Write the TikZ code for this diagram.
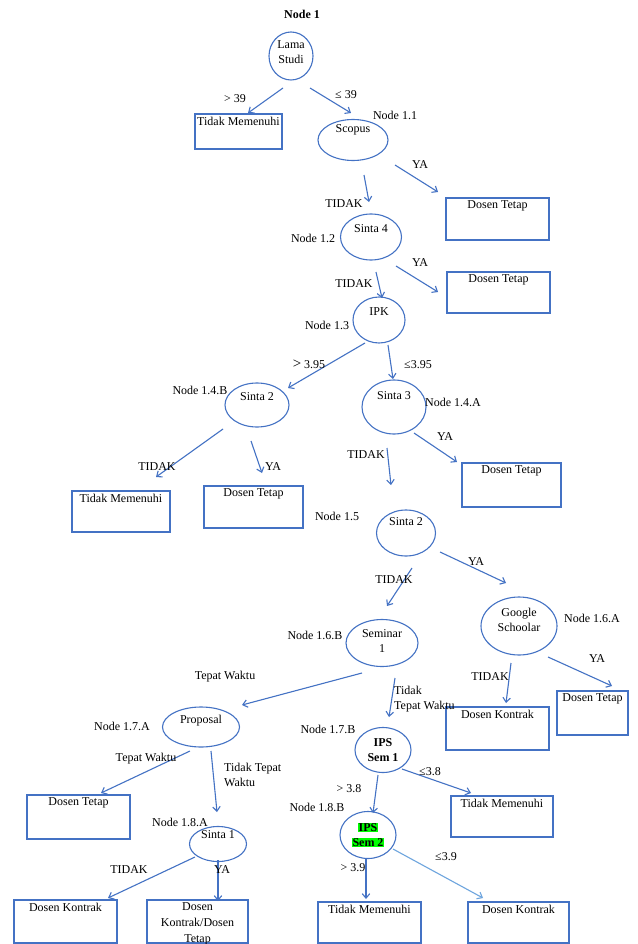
\documentclass[tikz,border=0pt]{standalone}
\usepackage{fontspec}
\setmainfont{Liberation Serif}
\usetikzlibrary{shapes.geometric,arrows.meta}
\definecolor{lc}{RGB}{68,114,196}
\definecolor{lcl}{RGB}{110,165,222}
\definecolor{hl}{RGB}{0,255,0}
\newcommand{\fsz}{\fontsize{12}{14.5}\selectfont}
\begin{document}
\begin{tikzpicture}[x=1pt,y=-1pt,
  ell/.style={draw=lc, line width=1.1pt, ellipse, inner sep=0pt},
  box/.style={draw=lc, line width=1.2pt, rectangle, inner sep=0pt},
  arr/.style={draw=lc, line width=1.1pt, -{Straight Barb[length=4.5pt,width=7.5pt]}},
  lbl/.style={font=\fsz, inner sep=0pt, align=center},
  btxt/.style={lbl, anchor=north, yshift=-3.5pt}]
\useasboundingbox[fill=white] (0,0) rectangle (637,944);

% ---------- decision ellipses ----------
\node[ell, minimum width=44, minimum height=48] (n1) at (291,56) {};
\node[lbl] (n1t) at (291,52) {Lama\\Studi};
\node[ell, minimum width=70, minimum height=41] (n11) at (353,140) {};
\node[lbl] (n11t) at (353,130) {Scopus};
\node[ell, minimum width=61, minimum height=46] (n12) at (371,237) {};
\node[lbl] (n12t) at (371,229) {Sinta 4};
\node[ell, minimum width=52, minimum height=46] (n13) at (379,320) {};
\node[lbl] (n13t) at (379,312) {IPK};
\node[ell, minimum width=64, minimum height=44] (n14b) at (257,405) {};
\node[lbl] (n14bt) at (257,397) {Sinta 2};
\node[ell, minimum width=64, minimum height=54] (n14a) at (394,407) {};
\node[lbl] (n14at) at (394,396) {Sinta 3};
\node[ell, minimum width=59, minimum height=46] (n15) at (406,533) {};
\node[lbl] (n15t) at (406,522) {Sinta 2};
\node[ell, minimum width=76, minimum height=58] (n16a) at (519,626) {};
\node[lbl] (n16at) at (519,620) {Google\\Schoolar};
\node[ell, minimum width=72, minimum height=47] (n16b) at (382,643) {};
\node[lbl] (n16bt) at (382,641) {Seminar\\1};
\node[ell, minimum width=77, minimum height=40] (n17a) at (201,727) {};
\node[lbl] (n17at) at (201,721) {Proposal};
\node[ell, minimum width=56, minimum height=45] (n17b) at (383,750) {};
\node[lbl, font=\fsz\bfseries] (n17bt) at (383,750) {IPS\\Sem 1};
\node[ell, minimum width=57, minimum height=35] (n18a) at (218,844) {};
\node[lbl] (n18at) at (218,835) {Sinta 1};
\node[ell, minimum width=56, minimum height=47] (n18b) at (368,835) {};
\node[lbl, font=\fsz\bfseries] (n18bt) at (368,835) {\setlength{\fboxsep}{0.6pt}\colorbox{hl}{IPS}\\\setlength{\fboxsep}{0.6pt}\colorbox{hl}{Sem 2}};

% ---------- result boxes ----------
\node[box, minimum width=87, minimum height=35, label={[btxt]north:Tidak Memenuhi}] (b1) at (238.5,131.5) {};
\node[box, minimum width=103, minimum height=42, label={[btxt]north:Dosen Tetap}] (b2) at (497.5,219) {};
\node[box, minimum width=103, minimum height=41, label={[btxt]north:Dosen Tetap}] (b3) at (498.5,292.5) {};
\node[box, minimum width=98, minimum height=41, label={[btxt]north:Tidak Memenuhi}] (b4) at (121,511.5) {};
\node[box, minimum width=99, minimum height=42, label={[btxt]north:Dosen Tetap}] (b5) at (253.5,507) {};
\node[box, minimum width=99, minimum height=44, label={[btxt]north:Dosen Tetap}] (b6) at (511.5,485) {};
\node[box, minimum width=103, minimum height=43, label={[btxt]north:Dosen Kontrak}] (b7) at (497.5,728.5) {};
\node[box, minimum width=71, minimum height=44, label={[btxt]north:Dosen Tetap}] (b8) at (592.5,713) {};
\node[box, minimum width=103, minimum height=44, label={[btxt]north:Dosen Tetap}] (b9) at (78.5,817) {};
\node[box, minimum width=102, minimum height=41, label={[btxt]north:Tidak Memenuhi}] (b10) at (502,816.5) {};
\node[box, minimum width=103, minimum height=43, label={[btxt]north:Dosen Kontrak}] (b11) at (65.5,921.5) {};
\node[box, minimum width=101, minimum height=43, label={[btxt, font=\fontsize{12}{16}\selectfont]north:Dosen\\Kontrak/Dosen\\Tetap}] (b12) at (197.5,921.5) {};
\node[box, minimum width=103, minimum height=41, label={[btxt]north:Tidak Memenuhi}] (b13) at (369.5,922.5) {};
\node[box, minimum width=101, minimum height=41, label={[btxt]north:Dosen Kontrak}] (b14) at (518.5,922.5) {};

% ---------- node captions ----------
\node[lbl, font=\fsz\bfseries] (c1) at (302,14) {Node 1};
\node[lbl] (c11) at (395,115) {Node 1.1};
\node[lbl] (c12) at (313,238) {Node 1.2};
\node[lbl] (c13) at (327,325) {Node 1.3};
\node[lbl] (c14b) at (200,390) {Node 1.4.B};
\node[lbl] (c14a) at (453,402) {Node 1.4.A};
\node[lbl] (c15) at (337,516) {Node 1.5};
\node[lbl] (c16a) at (592,618) {Node 1.6.A};
\node[lbl] (c16b) at (315,635) {Node 1.6.B};
\node[lbl] (c17a) at (122,726) {Node 1.7.A};
\node[lbl] (c17b) at (328,729) {Node 1.7.B};
\node[lbl] (c18b) at (317,807) {Node 1.8.B};
\node[lbl] (c18a) at (180,822) {Node 1.8.A};

% ---------- arrow end points ----------
\coordinate (s1) at (283,88);  \coordinate (t1) at (248,113);
\coordinate (s2) at (310,88);  \coordinate (t2) at (351,113);
\coordinate (s3) at (395,165); \coordinate (t3) at (438,192);
\coordinate (s4) at (364,175); \coordinate (t4) at (369,202);
\coordinate (s5) at (396,266); \coordinate (t5) at (438,292);
\coordinate (s6) at (376,272); \coordinate (t6) at (382,298);
\coordinate (s7) at (365,343); \coordinate (t7) at (288,388);
\coordinate (s8) at (388,345); \coordinate (t8) at (393,379);
\coordinate (s9) at (223,429); \coordinate (t9) at (156,477);
\coordinate (s10) at (251,441); \coordinate (t10) at (262,473);
\coordinate (s11) at (414,433); \coordinate (t11) at (457,462);
\coordinate (s12) at (387,448); \coordinate (t12) at (391,485);
\coordinate (s13) at (440,552); \coordinate (t13) at (506,583);
\coordinate (s14) at (412,568); \coordinate (t14) at (387,606);
\coordinate (s15) at (548,657); \coordinate (t15) at (612,686);
\coordinate (s16) at (511,663); \coordinate (t16) at (506,703);
\coordinate (s17) at (362,673); \coordinate (t17) at (242,705);
\coordinate (s18) at (395,678); \coordinate (t18) at (389,717);
\coordinate (s19) at (190,751); \coordinate (t19) at (101,793);
\coordinate (s20) at (211,751); \coordinate (t20) at (217,812);
\coordinate (s21) at (402,769); \coordinate (t21) at (471,793);
\coordinate (s22) at (378,775); \coordinate (t22) at (373,813);
\coordinate (s23) at (366,859); \coordinate (t23) at (366,899);
\coordinate (s24) at (393,849); \coordinate (t24) at (483,898);
\coordinate (s25) at (195,857); \coordinate (t25) at (108,898);
\coordinate (s26) at (218,860); \coordinate (t26) at (218,901);

\foreach \i in {1,...,23,25,26} {\draw[arr] (s\i) -- (t\i);}
\draw[arr, draw=lcl] (s24) -- (t24);

% ---------- arrow labels ----------
\node[lbl] (l1) at (235,99) {> 39};
\node[lbl] (l2) at (346,95) {≤ 39};
\node[lbl] (l3) at (420,165) {YA};
\node[lbl] (l4) at (344,204) {TIDAK};
\node[lbl] (l5) at (420,263) {YA};
\node[lbl] (l6) at (354,284) {TIDAK};
\node[lbl] (l7) at (309,364) {{\fontsize{15}{15}\selectfont >} 3.95};
\node[lbl] (l8) at (418,365) {≤3.95};
\node[lbl] (l9) at (157,467) {TIDAK};
\node[lbl] (l10) at (273,467) {YA};
\node[lbl] (l11) at (445,437) {YA};
\node[lbl] (l12) at (366,455) {TIDAK};
\node[lbl] (l13) at (476,562) {YA};
\node[lbl] (l14) at (394,580) {TIDAK};
\node[lbl] (l15) at (597,659) {YA};
\node[lbl] (l16) at (490,677) {TIDAK};
\node[lbl] (l17) at (225,677) {Tepat Waktu};
\node[lbl, align=left, anchor=north west] (l18) at (394,686) {Tidak\\Tepat Waktu};
\node[lbl] (l19) at (146,759) {Tepat Waktu};
\node[lbl, align=left, anchor=north west] (l20) at (224,763) {Tidak Tepat\\Waktu};
\node[lbl] (l21) at (430,772) {≤3.8};
\node[lbl] (l22) at (349,789) {> 3.8};
\node[lbl] (l23) at (353,868) {> 3.9};
\node[lbl] (l24) at (446,857) {≤3.9};
\node[lbl] (l25) at (129,870) {TIDAK};
\node[lbl] (l26) at (222,870) {YA};
\end{tikzpicture}
\end{document}
